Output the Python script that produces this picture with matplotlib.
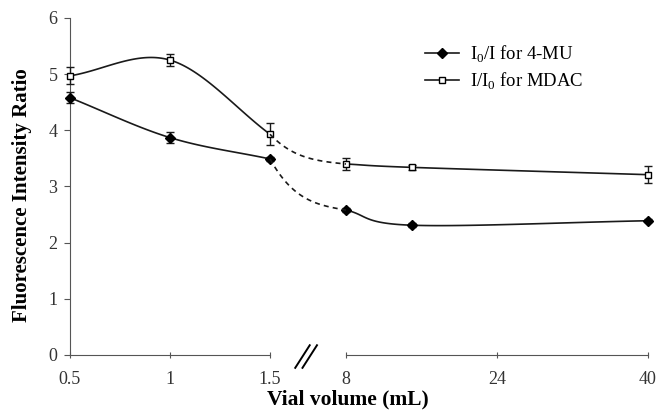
import numpy as np
import matplotlib
matplotlib.use("Agg")
import matplotlib.pyplot as plt
from matplotlib.lines import Line2D

plt.rcParams['font.family'] = 'Liberation Serif'
plt.rcParams['mathtext.fontset'] = 'custom'
plt.rcParams['mathtext.rm'] = 'Liberation Serif'

# data: small vials (left panel) and large vials (right panel)
vol_small = [0.5, 1.0, 1.5]
vol_large = [8, 15, 40]
mu_small = [4.58, 3.87, 3.49]
mu_small_err = [0.10, 0.10, 0.04]
mu_large = [2.58, 2.31, 2.39]
mu_large_err = [0.04, 0.04, 0.03]
mdac_small = [4.97, 5.25, 3.93]
mdac_small_err = [0.15, 0.10, 0.20]
mdac_large = [3.40, 3.34, 3.21]
mdac_large_err = [0.10, 0.04, 0.15]

y_ticks = [0, 1, 2, 3, 4, 5, 6]
small_ticks = [0.5, 1, 1.5]
large_ticks = [8, 24, 40]

lc = '#1a1a1a'


def smooth(x, y, n=60):
    # Bezier smoothing, control points from neighbours (like spreadsheet "smoothed line")
    p = np.column_stack([x, y]).astype(float)
    out = []
    for i in range(len(p) - 1):
        if i == 0:
            t0 = p[1] - p[0]
        else:
            t0 = (p[i + 1] - p[i - 1]) / 2
        if i + 1 == len(p) - 1:
            t1 = p[i + 1] - p[i]
        else:
            t1 = (p[i + 2] - p[i]) / 2
        c0, c1 = p[i] + t0 / 3, p[i + 1] - t1 / 3
        t = np.linspace(0, 1, n)[:, None]
        seg = ((1 - t) ** 3 * p[i] + 3 * (1 - t) ** 2 * t * c0
               + 3 * (1 - t) * t ** 2 * c1 + t ** 3 * p[i + 1])
        out.append(seg)
    s = np.vstack(out)
    return s[:, 0], s[:, 1]


fig = plt.figure(figsize=(6.59, 4.11), dpi=100)
ax1 = fig.add_axes([0.1062, 0.1363, 0.3035, 0.820])
ax2 = fig.add_axes([0.525, 0.1363, 0.4583, 0.820])

for ax, xs, mu, mue, md, mde in [(ax1, vol_small, mu_small, mu_small_err, mdac_small, mdac_small_err),
                                 (ax2, vol_large, mu_large, mu_large_err, mdac_large, mdac_large_err)]:
    sx, sy = smooth(xs, mu)
    ax.plot(sx, sy, color=lc, lw=1.2, clip_on=False)
    sx, sy = smooth(xs, md)
    ax.plot(sx, sy, color=lc, lw=1.2, clip_on=False)
    ax.errorbar(xs, mu, yerr=mue, fmt='D', color='black', ms=5.2, capsize=3,
                elinewidth=1, ecolor=lc, clip_on=False, zorder=3)
    ax.errorbar(xs, md, yerr=mde, fmt='s', mfc='white', mec='black', color='black',
                ms=5, mew=1, capsize=3, elinewidth=1, ecolor=lc, clip_on=False, zorder=3)
    ax.set_ylim(0, 6)
    for s in ['top', 'right']:
        ax.spines[s].set_visible(False)
    ax.spines['bottom'].set_color('#555555')
    ax.spines['left'].set_color('#555555')
    ax.tick_params(axis='x', direction='inout', length=5, colors='#555555',
                   labelcolor='#333333', labelsize=13, pad=9)
    ax.tick_params(axis='y', direction='out', length=4, colors='#555555',
                   labelcolor='#333333', labelsize=13, pad=5)

ax1.set_xlim(0.5, 1.5)
ax1.set_xticks(small_ticks)
ax1.set_xticklabels(['0.5', '1', '1.5'])
ax1.set_yticks(y_ticks)
ax1.set_ylabel('Fluorescence Intensity Ratio', fontsize=15, fontweight='bold')
ax1.yaxis.set_label_coords(-0.19, 0.475)

ax2.set_xlim(8, 40)
ax2.set_xticks(large_ticks)
ax2.spines['left'].set_visible(False)
ax2.tick_params(axis='y', left=False, labelleft=False)

fig.text(0.528, 0.003, 'Vial volume (mL)', ha='center', va='bottom', fontsize=15.5, fontweight='bold')

# dashed connectors across the axis break
fig.canvas.draw()
inv = fig.transFigure.inverted()
for ys, yl in [(mu_small, mu_large), (mdac_small, mdac_large)]:
    p0 = ax1.transData.transform((vol_small[-1], ys[-1]))
    p3 = ax2.transData.transform((vol_large[0], yl[0]))
    d = p3 - p0
    c0 = p0 + np.array([0.3 * d[0], 0.8 * d[1]])
    c1 = p3 - np.array([0.4 * d[0], 0.1 * d[1]])
    t = np.linspace(0, 1, 80)[:, None]
    b = (1 - t) ** 3 * p0 + 3 * (1 - t) ** 2 * t * c0 + 3 * (1 - t) * t ** 2 * c1 + t ** 3 * p3
    bf = inv.transform(b)
    fig.add_artist(Line2D(bf[:, 0], bf[:, 1], color=lc, lw=1.2, ls=(0, (3, 2.5))))

# break marks
for dx in [0, 0.011]:
    fig.add_artist(Line2D([0.448 + dx, 0.470 + dx], [0.105, 0.160], color='black', lw=1.4))

handles = [Line2D([], [], color=lc, marker='D', ms=5.2, mfc='black', mec='black', lw=1.2),
           Line2D([], [], color=lc, marker='s', ms=5, mfc='white', mec='black', lw=1.2)]
labels = [r'I$_\mathrm{0}$/I for 4-MU', r'I/I$_\mathrm{0}$ for MDAC']
fig.legend(handles, labels, loc='upper left', bbox_to_anchor=(0.62, 0.935), frameon=False,
           fontsize=13.5, handlelength=1.8, handletextpad=0.6, labelspacing=0.3)

fig.savefig('out.png', dpi=100)
